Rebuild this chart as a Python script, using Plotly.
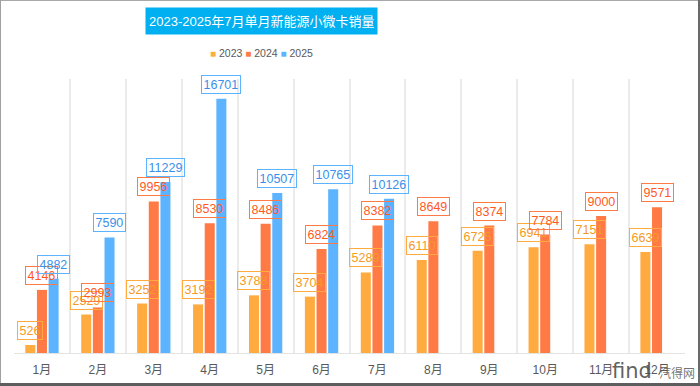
import plotly.graph_objects as go

months = ["1月", "2月", "3月", "4月", "5月", "6月", "7月", "8月", "9月", "10月", "11月", "12月"]
series_names = ["2023", "2024", "2025"]
sales_2023 = [526, 2529, 3252, 3192, 3788, 3704, 5289, 6110, 6725, 6941, 7151, 6639]
sales_2024 = [4146, 2993, 9956, 8530, 8486, 6824, 8382, 8649, 8374, 7784, 9000, 9571]
sales_2025 = [4882, 7590, 11229, 16701, 10507, 10765, 10126, None, None, None, None, None]
title_text = "2023-2025年7月单月新能源小微卡销量"

bar_colors = ["#FFAB3F", "#FF7A45", "#5CB3FF"]
label_text_colors = ["#F59A23", "#FF5A1F", "#3A90EA"]

W, H = 700, 386
ML, MR, MT, MB = 14, 15, 79, 33
PW, PH = W - ML - MR, H - MT - MB


def paper_x(px):
    return (px - ML) / PW


def paper_y(py):
    return (H - MB - py) / PH


fig = go.Figure()
all_series = [sales_2023, sales_2024, sales_2025]
for name, vals, col in zip(series_names, all_series, bar_colors):
    fig.add_trace(go.Bar(x=months, y=vals, name=name, marker=dict(color=col, line=dict(width=0)),
                         hoverinfo="x+y+name"))

bargap = 0.375
slot_px = (1 - bargap) * (PW / len(months)) / 3
annotations = []
for i, (vals, tc, bc) in enumerate(zip(all_series, label_text_colors, bar_colors)):
    for m, v in zip(months, vals):
        if v is None:
            continue
        annotations.append(dict(
            x=m, y=v, xref="x", yref="y", text=str(v), showarrow=False,
            xanchor="center", yanchor="bottom", xshift=(i - 1) * slot_px, yshift=5,
            font=dict(family="Liberation Sans, Arial, sans-serif", size=12.5, color=tc),
            bordercolor=bc, borderwidth=1, borderpad=1.5, bgcolor="rgba(0,0,0,0)",
        ))

# title box
annotations.append(dict(
    x=paper_x(261), y=paper_y(21), xref="paper", yref="paper", text=title_text,
    showarrow=False, xanchor="center", yanchor="middle", height=20, valign="middle",
    font=dict(family="Liberation Sans, Noto Sans CJK SC, sans-serif", size=13, color="white"),
    bgcolor="#00B0F0", borderpad=3,
))

# legend (as text)
legend_parts = []
for name, col in zip(series_names, bar_colors):
    legend_parts.append(f"<span style='color:{col};font-size:10px'>■</span> {name}")
annotations.append(dict(
    x=paper_x(261), y=paper_y(53), xref="paper", yref="paper", text=" ".join(legend_parts),
    showarrow=False, xanchor="center", yanchor="middle",
    font=dict(family="Liberation Sans, Arial, sans-serif", size=10.5, color="#595959"),
))

# watermark
annotations.append(dict(
    x=paper_x(632), y=paper_y(371), xref="paper", yref="paper", text="find",
    showarrow=False, xanchor="center", yanchor="middle",
    font=dict(family="DejaVu Sans, sans-serif", size=21, color="rgba(70,70,70,0.85)"),
))
annotations.append(dict(
    x=paper_x(677), y=paper_y(372), xref="paper", yref="paper", text="汽得网",
    showarrow=False, xanchor="center", yanchor="middle",
    font=dict(family="Noto Sans CJK SC, sans-serif", size=12, color="rgba(90,90,90,0.85)"),
))

shapes = [
    dict(type="line", xref="paper", yref="paper", x0=paper_x(0), x1=paper_x(700), y0=paper_y(0.5), y1=paper_y(0.5),
         line=dict(color="#A8A8A8", width=1)),
    dict(type="line", xref="paper", yref="paper", x0=paper_x(0.5), x1=paper_x(0.5), y0=paper_y(0), y1=paper_y(386),
         line=dict(color="#A0A0A0", width=1)),
    dict(type="line", xref="paper", yref="paper", x0=paper_x(699), x1=paper_x(699), y0=paper_y(0), y1=paper_y(386),
         line=dict(color="#6A6A6A", width=2)),
    dict(type="line", xref="paper", yref="paper", x0=paper_x(0), x1=paper_x(700), y0=paper_y(384.5), y1=paper_y(384.5),
         line=dict(color="#5E5E5E", width=3)),
]

fig.update_layout(
    width=W, height=H, margin=dict(l=ML, r=MR, t=MT, b=MB, autoexpand=False),
    paper_bgcolor="white", plot_bgcolor="white",
    barmode="group", bargap=bargap, bargroupgap=0.14,
    showlegend=False,
    annotations=annotations, shapes=shapes,
    xaxis=dict(type="category", tickson="boundaries", showgrid=True, gridcolor="#EBEBEB", gridwidth=2,
               showline=True, linecolor="#E3E3E3", linewidth=1, ticks="", ticklabelstandoff=6,
               automargin=False,
               tickfont=dict(family="Liberation Sans, Noto Sans CJK SC, sans-serif", size=12, color="#595959"),
               fixedrange=True),
    yaxis=dict(range=[0, 18000], visible=False, showgrid=False, zeroline=False, fixedrange=True),
)

fig.write_html("out.html", config={"displayModeBar": False},
               post_script="document.body.style.margin='0';document.body.style.padding='0';")
